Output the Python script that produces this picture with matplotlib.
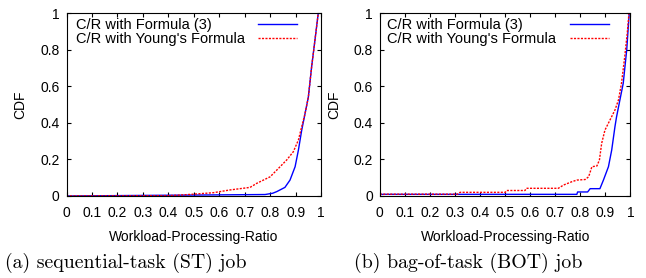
import matplotlib
matplotlib.use('Agg')
import matplotlib.pyplot as plt

# (a) sequential-task job
st_f3_x = [0.0, 0.78, 0.81, 0.826, 0.858, 0.878, 0.898, 0.911, 0.924, 0.937,
           0.95, 0.963, 0.976, 0.989, 1.0]
st_f3_y = [0.0, 0.008, 0.015, 0.024, 0.047, 0.087, 0.16, 0.251, 0.36, 0.45,
           0.54, 0.707, 0.852, 1.0, 1.0]
st_yg_x = [0.0, 0.40, 0.446, 0.5, 0.577, 0.642, 0.721, 0.747, 0.8, 0.839,
           0.865, 0.891, 0.911, 0.924, 0.937, 0.95, 0.963, 0.976, 0.989, 1.0]
st_yg_y = [0.0, 0.002, 0.005, 0.01, 0.018, 0.033, 0.047, 0.069, 0.105, 0.16,
           0.197, 0.242, 0.306, 0.379, 0.45, 0.54, 0.707, 0.852, 1.0, 1.0]

# (b) bag-of-task job
bot_f3_x = [0.0, 0.786, 0.789, 0.829, 0.839, 0.878, 0.892, 0.912, 0.925,
            0.938, 0.944, 0.957, 0.971, 0.985, 0.995, 1.0]
bot_f3_y = [0.009, 0.009, 0.022, 0.022, 0.04, 0.04, 0.087, 0.16, 0.251,
            0.379, 0.43, 0.52, 0.616, 0.8, 1.0, 1.0]
bot_yg_x = [0.0, 0.31, 0.32, 0.50, 0.506, 0.579, 0.585, 0.712, 0.733, 0.766,
            0.786, 0.819, 0.833, 0.846, 0.866, 0.876, 0.885, 0.898, 0.918,
            0.938, 0.952, 0.964, 0.977, 0.987, 0.994, 1.0]
bot_yg_y = [0.01, 0.01, 0.02, 0.02, 0.03, 0.03, 0.042, 0.042, 0.06, 0.078,
            0.087, 0.09, 0.105, 0.16, 0.164, 0.197, 0.288, 0.36, 0.415,
            0.47, 0.525, 0.616, 0.761, 0.889, 1.0, 1.0]

captions = ['(a) sequential-task (ST) job', '(b) bag-of-task (BOT) job']
labels = ['C/R with Formula (3)', "C/R with Young's Formula"]
xticks = [0, 0.1, 0.2, 0.3, 0.4, 0.5, 0.6, 0.7, 0.8, 0.9, 1]
xticklabels = ['0', '0.1', '0.2', '0.3', '0.4', '0.5', '0.6', '0.7', '0.8', '0.9', '1']
yticks = [0, 0.2, 0.4, 0.6, 0.8, 1]
yticklabels = ['0', '0.2', '0.4', '0.6', '0.8', '1']

plt.rcParams['font.family'] = ['Liberation Sans', 'DejaVu Sans']

fig = plt.figure(figsize=(6.46, 2.78), dpi=100)
ax1 = fig.add_axes([0.103, 0.295, 0.394, 0.658])
ax2 = fig.add_axes([0.588, 0.295, 0.388, 0.658])

# gnuplot-style key: text on the left, line samples lined up on the right
panels = [(ax1, st_f3_x, st_f3_y, st_yg_x, st_yg_y, 0.037, 0.752, 126),
          (ax2, bot_f3_x, bot_f3_y, bot_yg_x, bot_yg_y, 0.029, 0.759, 468)]

for ax, fx, fy, yx, yy, textx, handx, capx in panels:
    l1, = ax.plot(fx, fy, '-', color='#0000ff', lw=1.0)
    l2, = ax.plot(yx, yy, color='#ff0000', lw=1.0, linestyle=(0, (1.5, 1)))
    ax.set_xlim(0, 1)
    ax.set_ylim(0, 1)
    ax.set_xticks(xticks)
    ax.set_xticklabels(xticklabels)
    ax.set_yticks(yticks)
    ax.set_yticklabels(yticklabels)
    ax.tick_params(direction='in', length=3, width=0.8, top=True, right=True,
                   labelsize=10)
    ax.tick_params(axis='x', pad=7.5)
    ax.tick_params(axis='y', pad=5)
    for s in ax.spines.values():
        s.set_linewidth(0.8)
    ax.set_xlabel('Workload-Processing-Ratio', fontsize=10, labelpad=7)
    ax.set_ylabel('CDF', fontsize=10, labelpad=9)

    common = dict(loc='upper left', frameon=False, fontsize=10.5,
                  labelspacing=0.05, borderpad=0, borderaxespad=0,
                  handletextpad=0)
    keytext = ax.legend([l1, l2], labels, bbox_to_anchor=(textx, 0.975),
                        handlelength=0, **common)
    for h in keytext.legend_handles:
        h.set_visible(False)
    ax.add_artist(keytext)
    ax.legend([l1, l2], ['', ''], bbox_to_anchor=(handx, 0.975),
              handlelength=2.67, **common)

    fig.text(capx / 646.0, 1 - 263 / 278.0, captions[ax is ax2],
             family='cmr10', fontsize=14.3, ha='center', va='center')

plt.savefig('out.png', dpi=100)
